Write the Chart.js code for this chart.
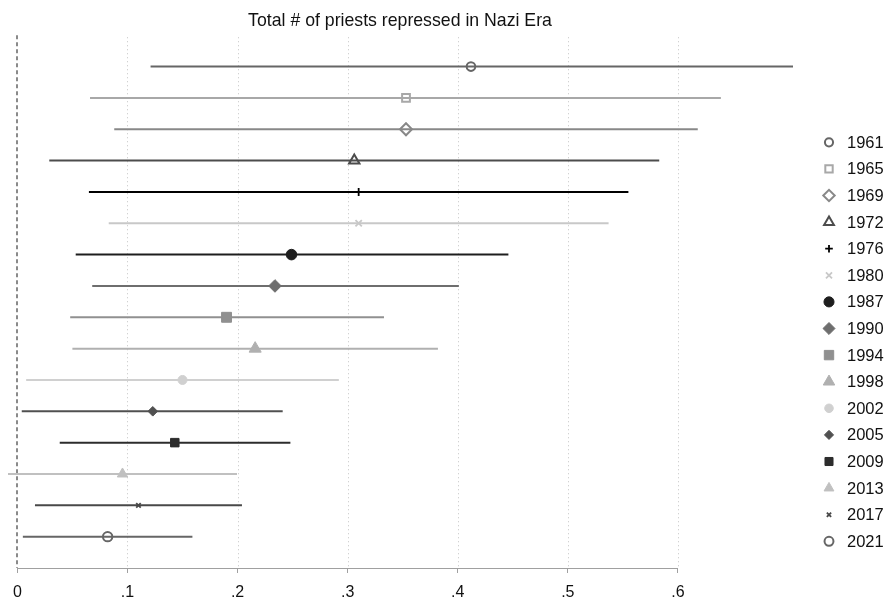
<!DOCTYPE html>
<html><head><meta charset="utf-8">
<script src="https://cdn.jsdelivr.net/npm/chart.js@4.4.1/dist/chart.umd.min.js"></script>
<style>html,body{margin:0;padding:0;background:#fff;}#wrap{width:888px;height:601px;}</style>
</head><body><div id="wrap"><canvas id="c" width="888" height="601"></canvas></div>
<script>
// ---- data ----
const years = ['1961','1965','1969','1972','1976','1980','1987','1990','1994','1998','2002','2005','2009','2013','2017','2021'];
const estimates = [0.412,0.353,0.353,0.306,0.310,0.310,0.249,0.234,0.190,0.216,0.150,0.123,0.143,0.0955,0.110,0.082];
const lowerCI   = [0.121,0.066,0.088,0.029,0.065,0.083,0.053,0.068,0.048,0.050,0.008,0.004,0.0385,-0.0085,0.016,0.005];
const upperCI   = [0.705,0.639,0.618,0.583,0.555,0.537,0.446,0.401,0.333,0.382,0.292,0.241,0.248,0.1995,0.204,0.159];
const tickValues = [0,0.1,0.2,0.3,0.4,0.5,0.6];
const tickLabels = ['0','.1','.2','.3','.4','.5','.6'];
const chartTitle = 'Total # of priests repressed in Nazi Era';

// ---- styles ----
const colors = ['#666666','#a8a8a8','#888888','#4c4c4c','#000000','#c8c8c8','#1e1e1e','#6e6e6e','#909090','#b0b0b0','#d0d0d0','#505050','#2c2c2c','#c0c0c0','#484848','#666666'];
const markerStyles = ['circle','rect','rectRot','triangle','cross','crossRot','circle','rectRot','rect','triangle','circle','rectRot','rect','triangle','crossRot','circle'];
const markerFilled = [false,false,false,false,true,true,true,true,true,true,true,true,true,true,true,false];
const markerRadius = [4.3,5.5,6,6,4,4.5,5.3,6.3,7,7,4.5,4.8,6,6,3.2,4.7];

function borderW(i) {
  if (!markerFilled[i]) return 2;
  if (markerStyles[i] === 'cross' || markerStyles[i] === 'crossRot') return 1.8;
  return 1;
}

const datasets = years.map((yr, i) => ({
  label: yr,
  data: [{x: lowerCI[i], y: i}, {x: estimates[i], y: i}, {x: upperCI[i], y: i}],
  showLine: true,
  borderColor: colors[i],
  borderWidth: 2,
  pointStyle: markerStyles[i],
  pointRadius: [0, markerRadius[i], 0],
  pointHoverRadius: [0, markerRadius[i], 0],
  pointBackgroundColor: markerFilled[i] ? colors[i] : 'rgba(0,0,0,0)',
  pointBorderColor: colors[i],
  pointBorderWidth: borderW(i)
}));

const decor = {
  id: 'decor',
  beforeDatasetsDraw(chart) {
    const {ctx, chartArea, scales: {x}} = chart;
    ctx.save();
    // dotted grid lines
    ctx.strokeStyle = '#c4c4c4';
    ctx.lineWidth = 1;
    ctx.setLineDash([1, 3]);
    tickValues.forEach(v => {
      if (v === 0) return;
      const px = Math.round(x.getPixelForValue(v)) + 0.5;
      ctx.beginPath(); ctx.moveTo(px, chartArea.top + 2); ctx.lineTo(px, chartArea.bottom); ctx.stroke();
    });
    // dashed zero line
    ctx.strokeStyle = '#8a8a8a';
    ctx.lineWidth = 2;
    ctx.setLineDash([4, 3]);
    const z = Math.round(x.getPixelForValue(0));
    ctx.beginPath(); ctx.moveTo(z, chartArea.top); ctx.lineTo(z, chartArea.bottom); ctx.stroke();
    // axis line
    ctx.setLineDash([]);
    ctx.strokeStyle = '#a0a0a0';
    ctx.lineWidth = 1;
    const yb = Math.round(chartArea.bottom) + 0.5;
    ctx.beginPath();
    ctx.moveTo(x.getPixelForValue(tickValues[0]), yb);
    ctx.lineTo(x.getPixelForValue(tickValues[tickValues.length - 1]), yb);
    ctx.stroke();
    ctx.restore();
  },
  afterDraw(chart) {
    const {ctx} = chart;
    const o = chart.options.plugins.decor;
    ctx.save();
    chart.data.datasets.forEach((ds, i) => {
      const y = o.legendTop + i * o.legendStep;
      ctx.save();
      ctx.fillStyle = ds.pointBackgroundColor;
      ctx.strokeStyle = ds.pointBorderColor;
      ctx.lineWidth = ds.pointBorderWidth;
      Chart.helpers.drawPoint(ctx, {
        pointStyle: ds.pointStyle,
        radius: markerRadius[i] * o.legendScale,
        rotation: 0,
        borderWidth: ds.pointBorderWidth
      }, o.legendMarkerX, y);
      ctx.restore();
      ctx.fillStyle = '#111';
      ctx.font = '16.5px "Liberation Sans", Arial, sans-serif';
      ctx.textBaseline = 'middle';
      ctx.textAlign = 'left';
      ctx.fillText(ds.label, o.legendTextX, y + 1);
    });
    ctx.restore();
  }
};

new Chart(document.getElementById('c'), {
  type: 'scatter',
  data: { datasets },
  plugins: [decor],
  options: {
    responsive: false,
    animation: false,
    events: [],
    layout: { padding: { left: 7, right: 95, top: 0, bottom: 0 } },
    scales: {
      x: {
        type: 'linear',
        min: -0.0094,
        max: 0.7045,
        afterBuildTicks: s => { s.ticks = tickValues.map(v => ({ value: v })); },
        afterFit: s => { s.height = 33; },
        ticks: {
          autoSkip: false,
          maxRotation: 0,
          padding: 10,
          color: '#111',
          font: { family: '"Liberation Sans", Arial, sans-serif', size: 16 },
          callback: v => { const k = tickValues.findIndex(t => Math.abs(t - v) < 1e-9); return k >= 0 ? tickLabels[k] : ''; }
        },
        grid: { drawOnChartArea: false, drawTicks: true, tickLength: 5, tickColor: '#a0a0a0', color: '#a0a0a0', tickWidth: 1 },
        border: { display: false }
      },
      y: { type: 'linear', min: -1, max: 16, reverse: true, display: false }
    },
    plugins: {
      legend: { display: false },
      tooltip: { enabled: false },
      title: {
        display: true,
        fullSize: false,
        text: chartTitle,
        color: '#111',
        font: { family: '"Liberation Sans", Arial, sans-serif', size: 17.7, weight: 'normal' },
        padding: { top: 10, bottom: 4 }
      },
      decor: { legendTop: 142.3, legendStep: 26.6, legendMarkerX: 829, legendTextX: 847, legendScale: 0.95 }
    }
  }
});
</script>
</body></html>
